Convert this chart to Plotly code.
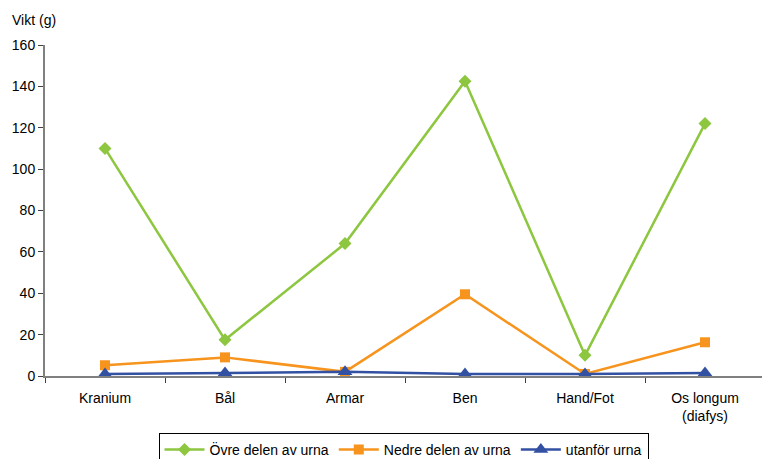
import plotly.graph_objects as go

categories = ["Kranium", "Bål", "Armar", "Ben", "Hand/Fot", "Os longum<br>(diafys)"]
ovre = [110, 17.5, 64, 142.5, 10, 122]
nedre = [5.2, 9, 2, 39.5, 1, 16.3]
utanfor = [1, 1.5, 2, 1, 1, 1.5]
series_names = ["Övre delen av urna", "Nedre delen av urna", "utanför urna"]
y_ticks = [0, 20, 40, 60, 80, 100, 120, 140, 160]

fig = go.Figure()
fig.add_trace(go.Scatter(x=categories, y=ovre, name=series_names[0], mode="lines+markers",
                         line=dict(color="#8DC63F", width=2.5),
                         marker=dict(symbol="diamond", size=10, color="#8DC63F")))
fig.add_trace(go.Scatter(x=categories, y=nedre, name=series_names[1], mode="lines+markers",
                         line=dict(color="#F7941D", width=2.5),
                         marker=dict(symbol="square", size=10, color="#F7941D")))
fig.add_trace(go.Scatter(x=categories, y=utanfor, name=series_names[2], mode="lines+markers",
                         line=dict(color="#3351A3", width=2.5),
                         marker=dict(symbol="triangle-up", size=13, color="#3351A3")))

fig.update_layout(
    width=762, height=459,
    margin=dict(l=45, r=0, t=45, b=83, autoexpand=False),
    paper_bgcolor="white", plot_bgcolor="white",
    font=dict(family="Liberation Sans, Arial, sans-serif", size=14, color="#000000"),
    showlegend=True,
    legend=dict(orientation="h", x=0.5, xanchor="center", y=-0.172, yanchor="top",
                bordercolor="#000000", borderwidth=1, font=dict(size=14),
                itemwidth=40, tracegroupgap=0),
    xaxis=dict(type="category", range=[-0.5, 5.475], showgrid=False, automargin=False,
               showline=True, linecolor="#808080", linewidth=2,
               ticks="outside", tickson="boundaries", ticklen=5, tickcolor="#404040",
               ticklabelstandoff=8, tickfont=dict(size=14)),
    yaxis=dict(range=[0, 160], tickvals=y_ticks, showgrid=False, zeroline=False,
               automargin=False,
               showline=True, linecolor="#808080", linewidth=2,
               ticks="outside", ticklen=5, tickcolor="#404040",
               tickfont=dict(size=14)),
    annotations=[dict(text="Vikt (g)", xref="paper", yref="paper",
                      x=(10 - 45) / 717, y=(376 - 20) / 331,
                      xanchor="left", yanchor="middle", showarrow=False)],
)
fig.write_html("out.html", config={"displayModeBar": False},
               post_script="document.body.style.margin='0';document.body.style.overflow='hidden';")
